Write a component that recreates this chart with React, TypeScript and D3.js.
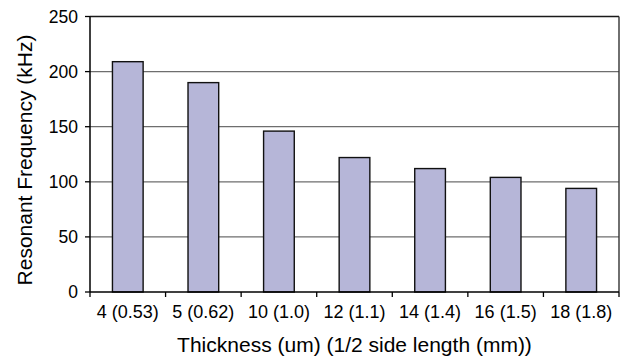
import React from "react";
import * as d3 from "d3";

const categories = ["4 (0.53)", "5 (0.62)", "10 (1.0)", "12 (1.1)", "14 (1.4)", "16 (1.5)", "18 (1.8)"];
const frequencies = [209, 190, 146, 122, 112, 104, 94];
const yTicks = [0, 50, 100, 150, 200, 250];

const W = 626;
const H = 358;
const margin = { left: 90, right: 7, top: 16.5, bottom: 66 };

export default function App() {
  const x = d3
    .scaleBand<string>()
    .domain(categories)
    .range([margin.left, W - margin.right])
    .paddingInner(0.594)
    .paddingOuter(0.297);
  const y = d3.scaleLinear().domain([0, 250]).range([H - margin.bottom, margin.top]);

  const x0 = margin.left;
  const x1 = W - margin.right;
  const y0 = y(0);
  const yTop = y(250);
  const step = (x1 - x0) / categories.length;
  const font = "'Liberation Sans', Arial, sans-serif";

  return (
    <svg
      width={W}
      height={H}
      style={{ position: "absolute", left: 0, top: 0, background: "#fff" }}
    >
      {/* horizontal gridlines */}
      {yTicks.slice(1, -1).map((t) => (
        <line key={"g" + t} x1={x0} x2={x1} y1={y(t)} y2={y(t)} stroke="#6e6e6e" strokeWidth={1.3} />
      ))}
      {/* plot frame */}
      <line x1={x0} x2={x1} y1={yTop} y2={yTop} stroke="#1a1a1a" strokeWidth={1.4} />
      <line x1={x1} x2={x1} y1={yTop} y2={y0} stroke="#333" strokeWidth={1.4} />

      {/* bars */}
      {categories.map((c, i) => (
        <rect
          key={c}
          x={x(c)}
          y={y(frequencies[i])}
          width={x.bandwidth()}
          height={y0 - y(frequencies[i])}
          fill="#b6b6d8"
          stroke="#111"
          strokeWidth={1.4}
        />
      ))}

      {/* y axis */}
      <line x1={x0} x2={x0} y1={yTop} y2={y0} stroke="#000" strokeWidth={1.5} />
      {yTicks.map((t) => (
        <g key={"y" + t}>
          <line x1={x0 - 5} x2={x0} y1={y(t)} y2={y(t)} stroke="#000" strokeWidth={1.3} />
          <text
            x={x0 - 12}
            y={y(t)}
            textAnchor="end"
            dominantBaseline="central"
            fontFamily={font}
            fontSize={17.5}
            fill="#000"
          >
            {t}
          </text>
        </g>
      ))}

      {/* x axis */}
      <line x1={x0} x2={x1} y1={y0} y2={y0} stroke="#000" strokeWidth={1.5} />
      {d3.range(categories.length + 1).map((i) => (
        <line
          key={"xt" + i}
          x1={x0 + i * step}
          x2={x0 + i * step}
          y1={y0}
          y2={y0 + 5}
          stroke="#000"
          strokeWidth={1.3}
        />
      ))}
      {categories.map((c) => (
        <text
          key={"xl" + c}
          x={(x(c) ?? 0) + x.bandwidth() / 2}
          y={318.3}
          textAnchor="middle"
          fontFamily={font}
          fontSize={18}
          fill="#000"
        >
          {c}
        </text>
      ))}

      {/* axis titles */}
      <text
        x={(x0 + x1) / 2}
        y={351.5}
        textAnchor="middle"
        fontFamily={font}
        fontSize={21}
        fill="#000"
      >
        Thickness (um) (1/2 side length (mm))
      </text>
      <text
        transform={`translate(32,160) rotate(-90)`}
        textAnchor="middle"
        fontFamily={font}
        fontSize={21}
        fill="#000"
      >
        Resonant Frequency (kHz)
      </text>
    </svg>
  );
}
